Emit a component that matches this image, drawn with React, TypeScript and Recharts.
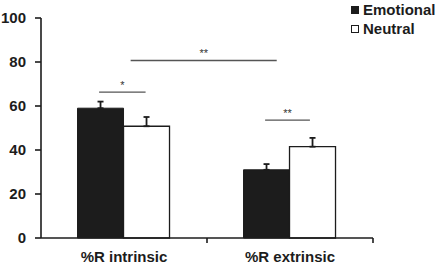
import { Bar, BarChart, ErrorBar, ReferenceLine, XAxis, YAxis } from 'recharts';

const categories = ['%R intrinsic', '%R extrinsic'];
const emotional = [59, 31];
const neutral = [50.8, 41.5];
const emotionalErr = [3, 2.6];
const neutralErr = [4.2, 4];
const yTicks = [0, 20, 40, 60, 80, 100];

// significance brackets on a 0..2 band scale (one unit per category)
const sigLines = [
  { x1: 0.35, x2: 0.63, y: 66.3, label: '*' },
  { x1: 0.54, x2: 1.42, y: 80.7, label: '**' },
  { x1: 1.35, x2: 1.62, y: 53.6, label: '**' },
];

const data = categories.map((name, i) => ({
  name,
  pos: i + 0.5,
  emotional: emotional[i],
  neutral: neutral[i],
  emotionalErr: [0, emotionalErr[i]],
  neutralErr: [0, neutralErr[i]],
}));

const font = 'Arial, "Liberation Sans", sans-serif';
const ink = '#1c1c1c';

function LegendBox() {
  const items = [
    { label: 'Emotional', fill: ink },
    { label: 'Neutral', fill: '#fff' },
  ];
  return (
    <div
      style={{
        position: 'absolute',
        left: 351,
        top: 0,
        fontFamily: font,
        fontWeight: 700,
        fontSize: 15,
        color: ink,
      }}
    >
      {items.map((it) => (
        <div key={it.label} style={{ display: 'flex', alignItems: 'center', height: 19 }}>
          <span
            style={{
              display: 'inline-block',
              width: 6,
              height: 6,
              marginRight: 4,
              background: it.fill,
              border: `1px solid ${ink}`,
            }}
          />
          {it.label}
        </div>
      ))}
    </div>
  );
}

export default function App() {
  return (
    <div style={{ position: 'absolute', left: 0, top: 0, width: 440, height: 267, background: '#fff' }}>
      <BarChart
        width={440}
        height={267}
        data={data}
        margin={{ top: 18, right: 67, bottom: 0, left: 0 }}
        barCategoryGap="22%"
        barGap={0}
      >
        <XAxis
          xAxisId="a"
          dataKey="pos"
          type="number"
          domain={[0, 2]}
          allowDataOverflow
          ticks={[1, 2]}
          tick={() => <g />}
          tickSize={5}
          height={1}
          axisLine={{ stroke: ink, strokeWidth: 1.6 }}
          tickLine={{ stroke: ink, strokeWidth: 1.6 }}
        />
        <XAxis
          xAxisId="b"
          dataKey="name"
          axisLine={false}
          tickLine={false}
          height={28}
          tickMargin={6}
          tick={{ fill: ink, fontSize: 15, fontWeight: 700, fontFamily: font }}
        />
        <YAxis
          domain={[0, 100]}
          ticks={yTicks}
          width={41}
          tickSize={6}
          tickMargin={9}
          axisLine={{ stroke: ink, strokeWidth: 1.6 }}
          tickLine={{ stroke: ink, strokeWidth: 1.6 }}
          tick={{ fill: ink, fontSize: 15, fontWeight: 700, fontFamily: font }}
        />
        <Bar xAxisId="b" dataKey="emotional" fill={ink} stroke={ink} isAnimationActive={false}>
          <ErrorBar dataKey="emotionalErr" width={3} stroke={ink} strokeWidth={1.8} direction="y" />
        </Bar>
        <Bar xAxisId="b" dataKey="neutral" fill="#fff" stroke={ink} strokeWidth={1.3} isAnimationActive={false}>
          <ErrorBar dataKey="neutralErr" width={3} stroke={ink} strokeWidth={1.8} direction="y" />
        </Bar>
        {sigLines.map((s, i) => (
          <ReferenceLine
            key={i}
            xAxisId="a"
            ifOverflow="visible"
            segment={[
              { x: s.x1, y: s.y },
              { x: s.x2, y: s.y },
            ]}
            stroke="#555"
            strokeWidth={1.4}
            label={{ value: s.label, position: 'top', fill: '#333', fontSize: 11, fontFamily: font, offset: 3 }}
          />
        ))}
      </BarChart>
      <LegendBox />
    </div>
  );
}
